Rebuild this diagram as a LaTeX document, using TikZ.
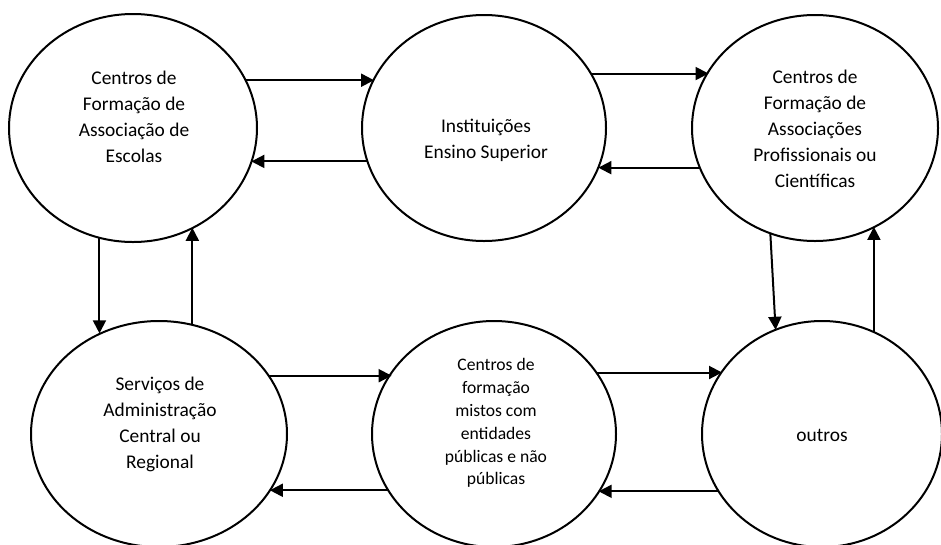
\documentclass[tikz,border=0pt]{standalone}
\usepackage{fontspec}
\setmainfont{Carlito}
\usepackage{tikz}
\usetikzlibrary{shapes.geometric,% ellipse nodes
arrows.meta}%                     filled triangle tips
\tikzset{every node/.style={font=\fontsize{19.4}{26}\selectfont},
  bubble/.style={draw,ellipse,line width=2pt,inner sep=0pt,outer sep=0pt,
    minimum width=244pt,minimum height=226pt},
  small/.style={font=\fontsize{17.6}{22.9}\selectfont},
  flow/.style={line width=2pt,-{Triangle[length=13pt,width=13pt]}}}

\begin{document}
\begin{tikzpicture}[x=1pt,y=-1pt]
\useasboundingbox (0,0) rectangle (941,544);
% the six bubbles
\node[bubble,minimum width=248pt,minimum height=228pt] (escolas) at (133,128) {};
\node[bubble] (ensino) at (484,128) {};
\node[bubble,minimum width=246pt] (cientificas) at (815,128) {};
\node[bubble,minimum width=256pt] (admin) at (159,434) {};
\node[bubble] (mistos) at (494,434) {};
\node[bubble,minimum width=240pt] (outros) at (822,434) {};
% texts
\node[align=center] (tescolas) at ([xshift=1pt,yshift=11pt]escolas)
  {Centros de\\Formação de\\Associação de\\Escolas};
\node[align=center] (tensino) at ([xshift=2pt,yshift=-12pt]ensino)
  {Instituições\\Ensino Superior};
\node[align=center] (tcientificas) at ([yshift=-1pt]cientificas)
  {Centros de\\Formação de\\Associações\\Profissionais ou\\Científicas};
\node[align=center] (tadmin) at ([xshift=1pt,yshift=9.5pt]admin)
  {Serviços de\\Administração\\Central ou\\Regional};
\node[align=center,small] (tmistos) at ([xshift=2pt,yshift=11pt]mistos)
  {Centros de\\formação\\mistos com\\entidades\\públicas e não\\públicas};
\node (toutros) at ([yshift=-1pt]outros) {outros};
% top row
\draw[flow] (escolas.23.1) -- (escolas.23.1 -| ensino.156.5);
\draw[flow] (ensino.196.3) -- (ensino.196.3 -| escolas.-16);
\draw[flow] (ensino.27.3) -- (ensino.27.3 -| cientificas.152.9);
\draw[flow] (cientificas.199.2) -- (cientificas.199.2 -| ensino.-19.3);
% columns
\draw[flow] (escolas.253.3) -- (escolas.253.3 |- admin.120.5);
\draw[flow] (admin.73.2) -- (admin.73.2 |- escolas.-59.5);
\draw[flow] (cientificas.247.9) -- (outros.114.9);
\draw[flow] (outros.63.5) -- (outros.63.5 |- cientificas.-59.8);
% bottom row
\draw[flow] (admin.28.9) -- (admin.28.9 -| mistos.149.9);
\draw[flow] (mistos.208.4) -- (mistos.208.4 -| admin.-27.3);
\draw[flow] (mistos.31.3) -- (mistos.31.3 -| outros.148.3);
\draw[flow] (outros.209.4) -- (outros.209.4 -| mistos.-29);
\end{tikzpicture}
\end{document}
